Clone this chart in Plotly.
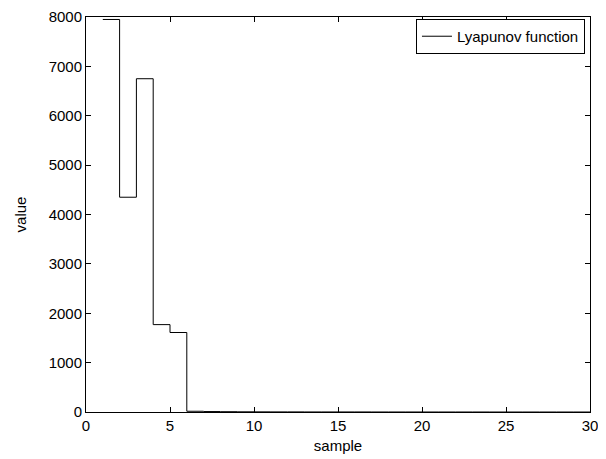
import plotly.graph_objects as go

samples = list(range(1, 31))
lyapunov = [7950, 4350, 6750, 1770, 1610, 15, 9, 6, 4, 3, 2, 2, 1, 1, 1,
            1, 0.5, 0.5, 0.5, 0.3, 0.3, 0.2, 0.2, 0.1, 0.1, 0.1, 0.1, 0.05, 0.05, 0.05]
x_ticks = [0, 5, 10, 15, 20, 25, 30]
y_ticks = [0, 1000, 2000, 3000, 4000, 5000, 6000, 7000, 8000]

FS = 15
fig = go.Figure()
fig.add_trace(go.Scatter(x=samples, y=lyapunov, mode="lines", line_shape="hv",
                         line=dict(color="black", width=1), name="Lyapunov function"))

axis_common = dict(showgrid=False, zeroline=False, showline=True, linecolor="black",
                   linewidth=1, mirror="ticks", ticks="inside", ticklen=5,
                   tickcolor="black", tickfont=dict(size=FS, color="black"),
                   automargin=False, ticklabeloverflow="allow")
fig.update_xaxes(range=[0, 30], tickvals=x_ticks, title=dict(text="sample", standoff=7,
                 font=dict(size=FS, color="black")), **axis_common)
fig.update_yaxes(range=[0, 8000], tickvals=y_ticks, title=dict(text="value", standoff=18,
                 font=dict(size=FS, color="black")), **axis_common)

# page body has an 8px margin, so the figure is 598x451 placed at (8, 8)
fig.update_layout(
    width=598, height=451,
    margin=dict(l=78, r=16, t=9, b=47, autoexpand=False),
    paper_bgcolor="white", plot_bgcolor="white",
    font=dict(family="Liberation Sans, Arial, sans-serif", size=FS, color="black"),
    showlegend=True,
    legend=dict(x=0.99, y=0.995, xanchor="right", yanchor="top",
                bordercolor="black", borderwidth=1, bgcolor="white",
                font=dict(size=FS), itemwidth=30),
)
fig.write_html("out.html")
